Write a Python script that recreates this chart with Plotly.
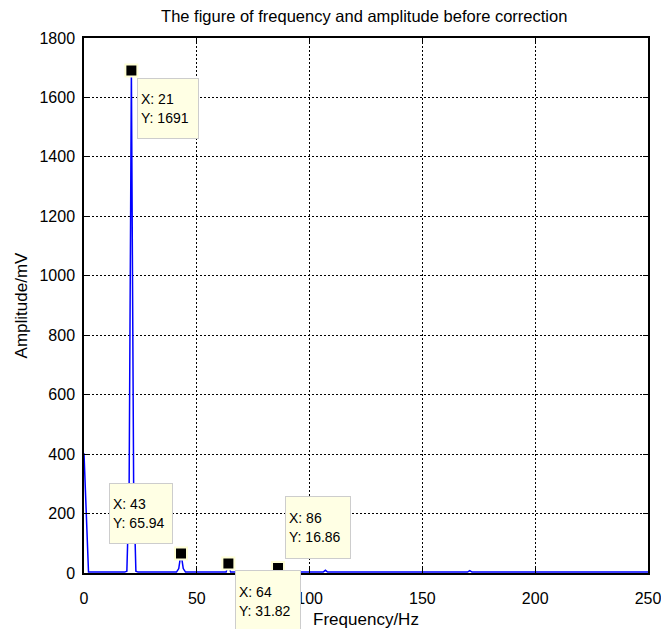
import plotly.graph_objects as go

# Spectrum (frequency in Hz, amplitude in mV)
freq = [0, 1, 2, 18, 19, 20, 21, 22, 23, 24, 41, 42, 43, 44, 45, 63, 64, 65, 85, 86, 87,
        106, 107, 108, 170, 171, 172, 250]
amp = [403, 200, 3, 3, 6, 280, 1691, 300, 6, 3, 3, 15, 65.94, 15, 3, 3, 31.82, 3, 3, 16.86, 3,
       3, 9, 3, 3, 8, 3, 3]

# Data tips
tip_x = [21, 43, 64, 86]
tip_y = [1691, 65.94, 31.82, 16.86]
tip_text = ["X: 21<br>Y: 1691", "X: 43<br>Y: 65.94", "X: 64<br>Y: 31.82", "X: 86<br>Y: 16.86"]

x_ticks = [0, 50, 100, 150, 200, 250]
y_ticks = [0, 200, 400, 600, 800, 1000, 1200, 1400, 1600, 1800]

FONT = "Liberation Sans, Arial, sans-serif"

fig = go.Figure()
fig.add_trace(go.Scatter(x=freq, y=amp, mode="lines",
                         line=dict(color="rgb(0,0,255)", width=1.5),
                         hoverinfo="skip", showlegend=False))
fig.add_trace(go.Scatter(x=tip_x, y=tip_y, mode="markers",
                         marker=dict(symbol="square", size=12, color="black",
                                     line=dict(color="rgb(255,255,215)", width=2)),
                         cliponaxis=False, hoverinfo="skip", showlegend=False))

# placement of tip boxes: (xanchor, yanchor, xshift, yshift, width, height)
place = [("left", "top", 6, -8, 54, 53),
         ("right", "bottom", -8, 9, 56, 53),
         ("left", "top", 7, -6, 58, 55),
         ("left", "bottom", 7, 9, 58, 55)]
for xv, yv, t, (xa, ya, xs, ys, w, h) in zip(tip_x, tip_y, tip_text, place):
    fig.add_annotation(x=xv, y=yv, xref="x", yref="y",
                       text=t, showarrow=False,
                       xanchor=xa, yanchor=ya, xshift=xs, yshift=ys,
                       width=w, height=h, align="left", valign="middle",
                       bgcolor="rgb(255,255,228)", bordercolor="rgb(205,205,205)",
                       borderwidth=1, borderpad=3,
                       font=dict(family=FONT, size=14, color="black"))

axis_common = dict(showline=True, linecolor="black", linewidth=1.5, mirror="allticks",
                   ticks="inside", ticklen=5, tickcolor="black", tickwidth=1,
                   showgrid=True, gridcolor="black", gridwidth=1, griddash="2px,2px",
                   zeroline=False, ticklabeloverflow="allow", automargin=False,
                   tickfont=dict(family=FONT, size=16, color="black"))

fig.update_xaxes(range=[0, 250], tickvals=x_ticks, ticktext=[str(v) for v in x_ticks],
                 title=dict(text="Frequency/Hz", font=dict(family=FONT, size=17, color="black"),
                            standoff=17),
                 ticklabelstandoff=10,
                 **axis_common)
fig.update_yaxes(range=[0, 1800], tickvals=y_ticks, ticktext=[str(v) for v in y_ticks],
                 title=dict(text="Amplitude/mV", font=dict(family=FONT, size=17, color="black"),
                            standoff=8),
                 ticklabelstandoff=4,
                 **axis_common)

fig.update_layout(
    width=661, height=629,
    margin=dict(l=84, r=13, t=38, b=56, autoexpand=False),
    paper_bgcolor="white", plot_bgcolor="white",
    title=dict(text="The figure of frequency and amplitude before correction",
               font=dict(family=FONT, size=16.5, color="black"),
               x=0.551, xanchor="center", y=0.9746, yanchor="middle"),
    showlegend=False,
)

fig.write_html("out.html")
